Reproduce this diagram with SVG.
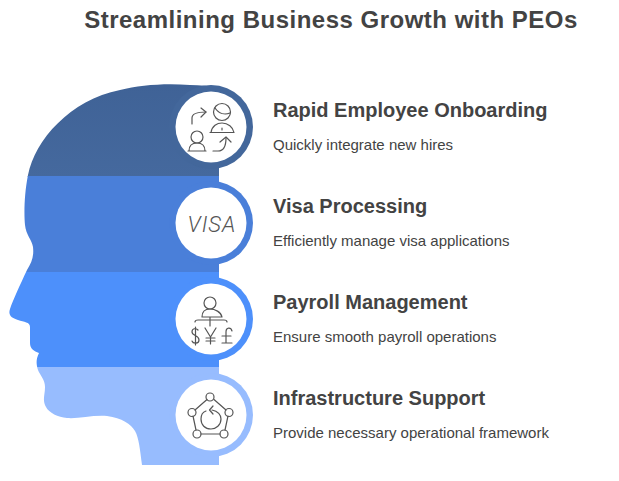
<svg xmlns="http://www.w3.org/2000/svg" width="619" height="481" viewBox="0 0 619 481">
<style>
text{font-family:"Liberation Sans",Arial,sans-serif;fill:#434343}
.t{font-size:24px;font-weight:700;letter-spacing:.5px}
.h{font-size:20px;font-weight:700}
.d{font-size:15px}
.i{fill:none;stroke:#555;stroke-width:1.2;stroke-linecap:round;stroke-linejoin:round}
.w{fill:#fff}
</style>
<defs>
<clipPath id="head"><path d="M219 465H142C140 450 139 438 135 431C131 424 122 418 107 416C92 415 78 419 67 418C58 417 49 413 46 407C42 400 45 395 45 387C45 380 40 375 38 370C36 364 36 359 39 353C34 351 30 349 30 343V327C30 322 24 322 18 320C11 318 8 315 10 309C13 300 20 285 27 270C32 262 34 256 33 247C32 240 26 235 25 225C24 215 24 195 28 175C35 140 70 100 120 90C140 85 165 83 190 85C200 85 210 86 219 88Z"/></clipPath>
<linearGradient id="b1" x1="0" y1="0" x2="0" y2="1"><stop offset="0" stop-color="#3f6296"/><stop offset="1" stop-color="#45699e"/></linearGradient>
</defs>
<text class="t" x="331" y="28" text-anchor="middle">Streamlining Business Growth with PEOs</text>
<g id="head-bands" clip-path="url(#head)">
<rect x="0" y="80" width="219" height="97" fill="url(#b1)"/>
<rect x="0" y="176" width="219" height="96" fill="#4a7fd9"/>
<rect x="0" y="272" width="219" height="95" fill="#4d90fb"/>
<rect x="0" y="367" width="219" height="100" fill="#97bcfe"/>
</g>
<g id="node-onboarding">
<circle cx="211" cy="127" r="42" fill="#43679b"/>
<circle class="w" cx="211" cy="127" r="35.5"/>
<g class="i">
<path d="M192 124V118C192 113 198 112 206 112"/><path d="M201 108L206 112L201 117"/>
<circle cx="222" cy="112" r="8.500"/><path d="M215 108C219 114 225 115 230 113"/>
<path d="M211 132.500C212 126 217 123 222 123C228 123 233 127 234 132.500ZM210 132.500H234M222 128V130"/>
<circle cx="197" cy="137" r="6"/><path d="M189 151C189 146 192 143 197 143C202 143 205 146 205 151ZM188 151H206"/>
<path d="M213 151H218C224 151 226 146 226 138"/><path d="M220 142L226 137L231 142"/>
</g>
<text class="h" x="273" y="117">Rapid Employee Onboarding</text>
<text class="d" x="273" y="150">Quickly integrate new hires</text>
</g>
<g id="node-visa">
<circle cx="211" cy="223" r="42" fill="#4a7fd9"/>
<circle class="w" cx="211" cy="223" r="35.5"/>
<text x="187.500" y="232" font-size="22" font-style="italic" letter-spacing="1" style="font-family:Roboto,'Liberation Sans',sans-serif;fill:#555;font-weight:300">VISA</text>
<text class="h" x="273" y="213">Visa Processing</text>
<text class="d" x="273" y="246">Efficiently manage visa applications</text>
</g>
<g id="node-payroll">
<circle cx="211" cy="319" r="42" fill="#4d90fb"/>
<circle class="w" cx="211" cy="319" r="35.5"/>
<g class="i">
<circle cx="210" cy="303" r="6"/>
<path d="M202 317C202 312 205 309 210 309C215 309 221 312 222 317ZM202 317H222M210 317V326M195 322C195 320 196 320 198 320H224C226 320 227 320 227 322"/>
<path d="M198 330C196 328 192 328 192 332C192 336 199 335 199 340C199 344 193 344 192 341M195.500 327V345"/>
<path d="M205 328L210.500 337L216 328M210.500 337V344M206 338H215M206 341H215"/>
<path d="M232 331C231 327 226 327 226 332V343M222 336H231M222 343H232"/>
</g>
<text class="h" x="273" y="309">Payroll Management</text>
<text class="d" x="273" y="342">Ensure smooth payroll operations</text>
</g>
<g id="node-infrastructure">
<circle cx="211" cy="415" r="42" fill="#97bcfe"/>
<circle class="w" cx="211" cy="415" r="35.5"/>
<g class="i">
<path d="M207 399.500L195 410M214 399.500L226 410M193 416L196 430M228 416L225 430M201 434H220"/>
<circle cx="210" cy="397" r="4"/><circle cx="192" cy="412.500" r="4"/><circle cx="229" cy="412.500" r="4"/><circle cx="197" cy="434" r="4"/><circle cx="224" cy="434" r="4"/>
<path d="M212 410C218 411 221 415 221 419C221 425 216 429 211 429C205 429 201 425 201 419C201 415 203 412 206 411"/><path d="M213 406L209.500 410L213 414"/>
</g>
<text class="h" x="273" y="405">Infrastructure Support</text>
<text class="d" x="273" y="438">Provide necessary operational framework</text>
</g>
</svg>
